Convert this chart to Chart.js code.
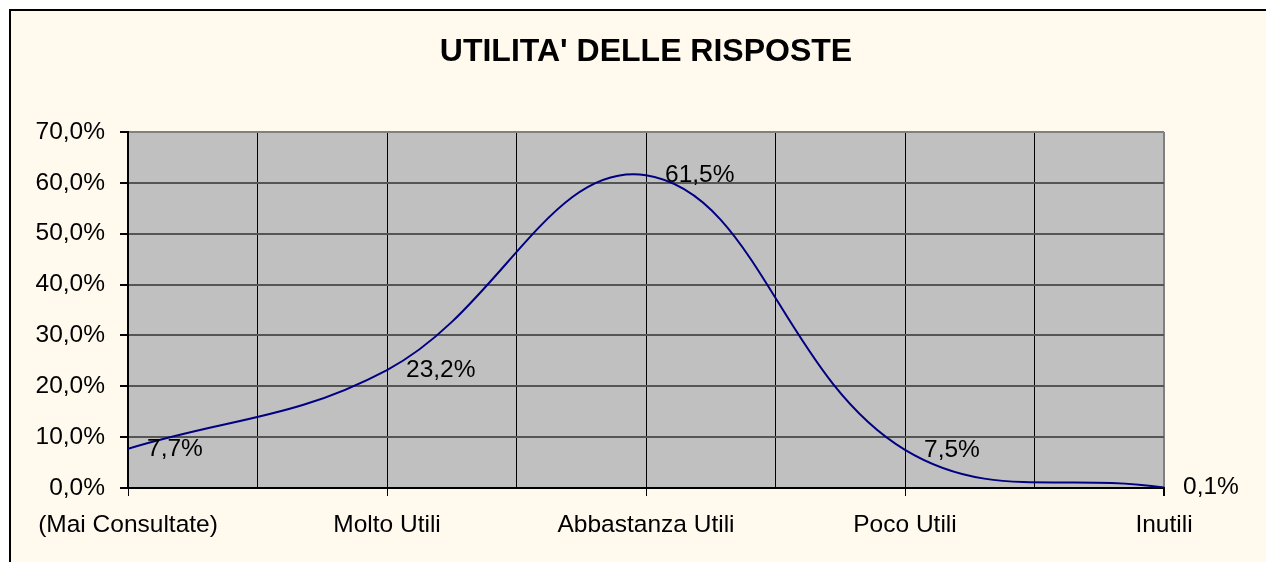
<!DOCTYPE html>
<html>
<head>
<meta charset="utf-8">
<title>Utilita' delle risposte</title>
<script src="https://cdn.jsdelivr.net/npm/chart.js@4/dist/chart.umd.min.js"></script>
<style>
    html, body { margin: 0; padding: 0; background: #ffffff; }
    #contenitore { width: 1266px; height: 562px; }
</style>
</head>
<body>
<div id="contenitore"><canvas id="grafico" width="1266" height="562"></canvas></div>
<script>
window.addEventListener("DOMContentLoaded", main);

const ID_GRAFICO = "grafico";
const TITOLO = "UTILITA' DELLE RISPOSTE";

// dati
const CATEGORIE = ["(Mai Consultate)", "Molto Utili", "Abbastanza Utili", "Poco Utili", "Inutili"];
const PERCENTUALI = [7.7, 23.2, 61.5, 7.5, 0.1];
const ASSE_Y_MIN = 0;
const ASSE_Y_MAX = 70;
const ASSE_Y_PASSO = 10;

const FONT = "'Liberation Sans', Arial, sans-serif";

function formatoPercento(v){
    return v.toFixed(1).replace(".", ",") + "%";
}

// sfondo crema con bordo nero e area del grafico grigia
const pluginSfondo = {
    id: "sfondo",
    beforeDraw(chart){
        let ctx = chart.ctx;
        let area = chart.chartArea;
        ctx.save();
        ctx.fillStyle = "#ffffff";
        ctx.fillRect(0, 0, chart.width, chart.height);
        ctx.fillStyle = "#fff9ee";
        ctx.fillRect(9, 9, chart.width, chart.height);
        ctx.strokeStyle = "#000000";
        ctx.lineWidth = 2;
        ctx.strokeRect(10, 10, chart.width + 20, chart.height + 20);
        ctx.fillStyle = "#c0c0c0";
        ctx.fillRect(area.left, area.top, area.right - area.left, area.bottom - area.top);
        ctx.restore();
    }
};

// etichette dei valori a destra dei punti
const pluginEtichette = {
    id: "etichette",
    afterDatasetsDraw(chart){
        let ctx = chart.ctx;
        let meta = chart.getDatasetMeta(0);
        ctx.save();
        ctx.font = "24.5px " + FONT;
        ctx.fillStyle = "#000000";
        ctx.textAlign = "left";
        ctx.textBaseline = "middle";
        meta.data.forEach((punto, i) => {
            ctx.fillText(formatoPercento(PERCENTUALI[i]), punto.x + 19, punto.y);
        });
        ctx.restore();
    }
};

function main(){

    let punti = PERCENTUALI.map((v, i) => ({x: i, y: v}));

    let ctx = document.getElementById(ID_GRAFICO)?.getContext("2d");
    if(ctx){
        let chart = new Chart(ctx, {
            type: "line",
            data: {
                datasets: [{
                    data: punti,
                    borderColor: "#000080",
                    borderWidth: 2,
                    pointRadius: 0,
                    tension: 0.4,
                    capBezierPoints: false,
                    fill: false
                }]
            },
            options: {
                responsive: false,
                animation: false,
                layout: {padding: {left: 0, right: 102, top: 0, bottom: 0}},
                plugins: {
                    legend: {display: false},
                    tooltip: {enabled: false},
                    title: {
                        display: true,
                        fullSize: false,
                        text: TITOLO,
                        color: "#000000",
                        font: {family: FONT, size: 32, weight: "bold"},
                        padding: {top: 33, bottom: 60.6}
                    }
                },
                scales: {
                    x: {
                        type: "linear",
                        min: 0,
                        max: CATEGORIE.length - 1,
                        afterFit: (scale) => { scale.height = 74; },
                        afterBuildTicks: (scale) => {
                            let t = [];
                            for(let v = 0; v <= CATEGORIE.length - 1; v += 0.5){ t.push({value: v}); }
                            scale.ticks = t;
                        },
                        ticks: {
                            autoSkip: false,
                            maxRotation: 0,
                            minRotation: 0,
                            padding: 15,
                            color: "#000000",
                            font: {family: FONT, size: 24.5},
                            callback: (v) => Number.isInteger(v) ? CATEGORIE[v] : ""
                        },
                        grid: {
                            color: (c) => (c.tick && c.tick.value === CATEGORIE.length - 1) ? "#808080" : "#000000",
                            lineWidth: (c) => (c.tick && c.tick.value === CATEGORIE.length - 1) ? 2 : 1,
                            tickColor: (c) => (c.tick && Number.isInteger(c.tick.value)) ? "#000000" : "rgba(0,0,0,0)",
                            tickLength: 8
                        },
                        border: {color: "#000000", width: 2}
                    },
                    y: {
                        min: ASSE_Y_MIN,
                        max: ASSE_Y_MAX,
                        afterFit: (scale) => { scale.width = 128; },
                        ticks: {
                            stepSize: ASSE_Y_PASSO,
                            padding: 15,
                            color: "#000000",
                            font: {family: FONT, size: 24.5},
                            callback: (v) => formatoPercento(v)
                        },
                        grid: {
                            color: (c) => (c.tick && c.tick.value === ASSE_Y_MAX) ? "#808080" : "#555555",
                            lineWidth: 2,
                            tickColor: "#000000",
                            tickLength: 8
                        },
                        border: {color: "#000000", width: 2}
                    }
                }
            },
            plugins: [pluginSfondo, pluginEtichette]
        });
    }

}
</script>
</body>
</html>
